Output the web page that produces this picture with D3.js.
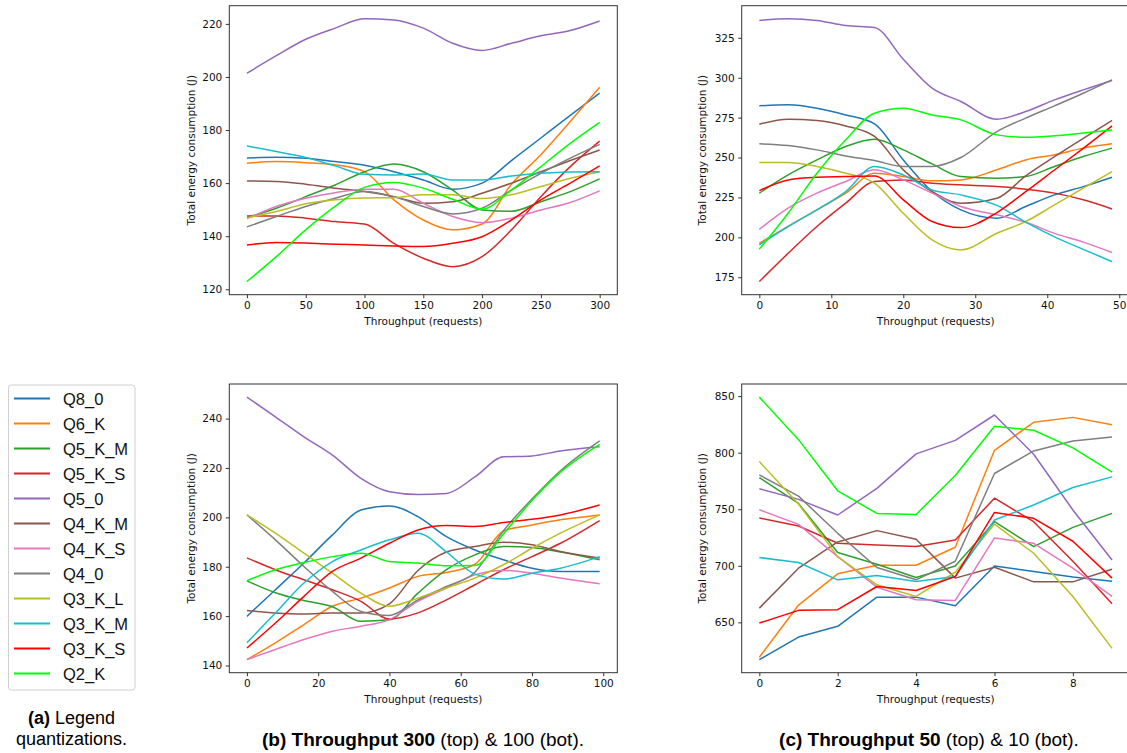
<!DOCTYPE html>
<html><head><meta charset="utf-8">
<script src="https://cdn.jsdelivr.net/npm/d3@7"></script>
<style>body{margin:0;background:#fff} svg{display:block}</style>
</head><body>
<svg id="c" width="1127" height="753"></svg>
<script>
const seriesNames = ["Q8_0","Q6_K","Q5_K_M","Q5_K_S","Q5_0","Q4_K_M","Q4_K_S","Q4_0","Q3_K_L","Q3_K_M","Q3_K_S","Q2_K"];
const seriesColors = ["#1f77b4","#ff7f0e","#2ca02c","#d62728","#9467bd","#8c564b","#e377c2","#7f7f7f","#bcbd22","#17becf","#ff0000","#00ff00"];

// Throughput 300 (top-left), rows follow seriesNames
const x300 = [0,25,50,75,100,125,150,175,200,225,250,275,300];
const y300 = [
  [169.5,169.7,169.4,168.1,166.7,164.3,161.2,157.7,160.0,168.5,177.0,185.5,193.9],
  [167.5,168.1,167.7,166.9,164.3,153.7,146.1,142.4,144.6,159.6,170.7,183.2,196.1],
  [147.0,150.5,154.9,159.3,164.3,167.2,164.3,157.4,149.9,149.4,153.0,156.8,161.6],
  [147.6,147.6,146.8,145.5,144.6,137.3,131.7,128.5,132.3,142.4,154.9,166.2,175.8],
  [201.4,208.0,214.2,218.4,221.9,221.5,218.4,212.7,210.0,212.7,215.5,217.5,221.1],
  [160.8,160.6,159.6,158.1,156.8,154.9,152.4,153.0,156.2,160.0,164.3,168.5,172.5],
  [146.6,151.2,154.3,156.4,157.7,157.7,152.4,147.4,145.1,146.8,149.9,152.7,157.1],
  [143.5,147.4,151.2,154.3,156.8,154.9,151.2,148.4,150.5,157.4,163.7,169.4,174.6],
  [146.9,149.3,152.2,153.7,154.4,154.5,155.6,155.6,154.2,155.6,158.7,161.8,164.3],
  [174.0,171.9,169.7,166.5,163.3,163.1,163.4,161.2,161.2,162.7,163.7,164.2,164.3],
  [136.7,137.6,137.4,137.0,136.7,136.3,136.1,137.3,139.8,146.1,153.7,160.0,166.5],
  [122.9,132.3,142.4,151.2,158.4,160.2,158.1,153.9,150.2,157.4,166.2,175.0,182.9]
];

// Throughput 50 (top-right)
const x50 = [0,4,8,12,16,20,24,28,33,37,41,45,49];
const y50 = [
  [282.4,283.0,280.9,276.7,271.1,248.5,228.7,217.2,212.0,219.3,226.6,231.8,237.7],
  [196.3,206.8,217.2,227.7,240.2,238.1,235.4,236.0,242.3,248.5,251.7,255.9,258.6],
  [227.7,239.1,248.5,256.9,261.5,254.8,246.0,238.1,237.0,238.1,244.4,250.6,255.9],
  [172.3,190.0,206.8,221.4,235.0,236.0,233.9,232.9,231.8,230.2,227.7,223.5,217.8],
  [335.9,336.9,335.9,332.7,331.5,311.6,293.5,285.1,274.0,278.8,286.1,292.4,298.3],
  [270.9,274.0,273.2,269.8,263.2,242.3,228.7,221.4,224.5,238.5,250.5,262.0,273.2],
  [205.0,218.3,227.7,235.0,242.3,236.0,227.7,219.3,214.1,209.5,202.5,197.0,190.5],
  [258.6,257.5,254.8,251.0,248.1,244.4,244.4,250.0,266.3,274.7,282.4,290.3,298.7],
  [246.9,246.9,244.4,240.2,233.9,215.1,198.4,192.1,202.6,209.9,220.3,230.8,241.2],
  [195.3,206.8,217.2,228.7,244.4,239.1,229.7,226.6,220.0,209.5,200.3,192.5,184.8],
  [229.3,236.0,237.7,238.1,238.5,223.5,209.9,206.1,215.5,228.6,242.2,255.8,269.8],
  [192.6,215.1,240.2,261.1,277.8,280.9,276.7,273.6,264.2,262.7,263.6,265.3,267.3]
];

// Throughput 100 (bottom-left)
const x100 = [0,8,16,24,32,40,48,56,64,72,80,88,99];
const y100 = [
  [159.9,170.7,181.5,192.9,203.0,204.6,200.3,192.2,186.8,182.8,179.4,178.1,178.1],
  [142.4,149.2,156.6,164.0,167.3,171.4,176.1,177.7,181.0,194.5,196.9,199.0,201.0],
  [174.3,169.5,166.3,163.8,157.9,158.5,169.3,178.8,184.8,188.2,187.8,186.0,182.8],
  [183.6,178.8,174.7,170.7,166.0,158.8,161.3,166.6,172.7,178.8,184.1,189.5,198.7],
  [248.7,240.7,232.6,225.2,215.8,210.4,209.3,209.7,216.4,224.5,224.9,226.9,228.6],
  [162.3,161.3,160.9,161.3,161.3,165.0,178.5,186.0,188.2,189.9,188.9,186.2,183.5],
  [142.4,146.5,150.5,153.9,155.9,158.6,166.0,171.4,176.7,178.5,177.4,175.4,173.1],
  [201.0,190.9,180.1,170.0,161.9,160.3,166.6,172.0,177.8,194.6,207.4,218.9,231.0],
  [201.0,193.6,185.5,177.4,169.3,164.0,167.3,171.4,175.4,180.8,187.5,193.6,201.0],
  [149.2,161.3,173.4,182.1,186.8,190.9,193.6,186.0,177.0,175.0,177.4,179.4,184.1],
  [147.1,157.2,168.0,178.1,183.5,189.5,194.9,196.7,196.3,197.9,199.2,201.0,205.0],
  [174.3,178.8,181.7,184.1,185.5,182.1,181.5,180.4,180.5,193.3,206.8,218.3,229.6]
];

// Throughput 10 (bottom-right)
const x10 = [0,1,2,3,4,5,6,7,8,9];
const y10 = [
  [617.1,637.0,646.5,672.3,672.3,664.7,699.9,695.0,690.0,686.4],
  [619.2,665.3,692.9,700.5,700.5,716.4,802.1,826.8,831.2,824.7],
  [778.0,755.1,711.7,701.4,689.6,699.9,739.0,716.9,734.0,746.3],
  [742.2,735.2,719.9,718.4,717.0,722.8,759.8,739.0,704.0,666.4],
  [768.1,758.7,744.9,768.4,798.9,810.9,833.3,798.6,749.3,705.2],
  [662.6,697.9,721.1,731.1,723.4,689.1,698.7,685.8,685.8,697.0],
  [749.6,736.6,708.1,681.1,670.0,669.4,724.6,719.9,697.9,672.9],
  [780.4,761.6,728.7,698.5,687.6,704.0,781.6,801.5,810.4,813.9],
  [792.1,754.6,708.1,683.2,672.9,694.3,736.9,711.1,672.9,627.0],
  [707.3,702.9,687.6,691.4,686.1,690.5,740.5,753.7,769.2,778.6],
  [649.4,660.6,661.2,681.7,678.2,690.5,747.2,742.0,721.7,689.1],
  [849.1,811.5,766.3,746.3,745.4,779.8,823.3,819.8,804.2,782.8]
];

const xTicks300 = [0,50,100,150,200,250,300];
const yTicks300 = [120,140,160,180,200,220];
const xTicks50 = [0,10,20,30,40,50];
const yTicks50 = [175,200,225,250,275,300,325];
const xTicks100 = [0,20,40,60,80,100];
const yTicks100 = [140,160,180,200,220,240];
const xTicks10 = [0,2,4,6,8];
const yTicks10 = [650,700,750,800,850];

const svg = d3.select("#c");
const tickFont = "DejaVu Sans, sans-serif";

function pad(ext){ const d = (ext[1]-ext[0])*0.05; return [ext[0]-d, ext[1]+d]; }

function panel(box, xs, ys, xt, yt, smooth, ylabX){
  const xExt = pad(d3.extent(xs));
  const yExt = pad([d3.min(ys, r=>d3.min(r)), d3.max(ys, r=>d3.max(r))]);
  const x = d3.scaleLinear().domain(xExt).range([box.l, box.r]);
  const y = d3.scaleLinear().domain(yExt).range([box.b, box.t]);
  const g = svg.append("g");
  const line = d3.line().x((d,i)=>x(xs[i])).y(d=>y(d))
    .curve(smooth ? d3.curveMonotoneX : d3.curveLinear);
  ys.forEach((row,i)=>{
    g.append("path").attr("d", line(row)).attr("fill","none")
      .attr("stroke", seriesColors[i]).attr("stroke-width",1.5)
      .attr("stroke-linejoin","round");
  });
  g.append("rect").attr("x",box.l).attr("y",box.t).attr("width",box.r-box.l).attr("height",box.b-box.t)
    .attr("fill","none").attr("stroke","#333").attr("stroke-width",1);
  const ax = g.append("g").attr("transform",`translate(0,${box.b})`)
    .call(d3.axisBottom(x).tickValues(xt).tickFormat(d3.format("d")).tickSize(3.5).tickPadding(3.5));
  const ay = g.append("g").attr("transform",`translate(${box.l},0)`)
    .call(d3.axisLeft(y).tickValues(yt).tickFormat(d3.format("d")).tickSize(3.5).tickPadding(3.5));
  [ax,ay].forEach(a=>{
    a.select(".domain").remove();
    a.selectAll("line").attr("stroke","#333");
    a.selectAll("text").attr("font-family",tickFont).attr("font-size","10.5px").attr("fill","#111");
  });
  g.append("text").attr("x",(box.l+box.r)/2).attr("y",box.b+30)
    .attr("text-anchor","middle").attr("font-family",tickFont).attr("font-size","10.5px").attr("fill","#111")
    .text("Throughput (requests)");
  g.append("text").attr("transform",`translate(${ylabX},${(box.t+box.b)/2}) rotate(-90)`)
    .attr("text-anchor","middle").attr("font-family",tickFont).attr("font-size","10.5px").attr("fill","#111")
    .text("Total energy consumption (J)");
}

panel({l:229.3,r:617.3,t:5.7,b:294.7}, x300, y300, xTicks300, yTicks300, true, 194.5);
panel({l:741.7,r:1129.7,t:5.7,b:294.7}, x50, y50, xTicks50, yTicks50, true, 706);
panel({l:229.3,r:617.3,t:384,b:672.7}, x100, y100, xTicks100, yTicks100, true, 194.5);
panel({l:741.7,r:1129.7,t:384,b:672.7}, x10, y10, xTicks10, yTicks10, false, 706);

// Legend
const lg = svg.append("g");
lg.append("rect").attr("x",8.5).attr("y",385).attr("width",126.5).attr("height",305).attr("rx",3)
  .attr("fill","#fff").attr("stroke","#d0d0d0").attr("stroke-width",1);
seriesNames.forEach((n,i)=>{
  const cy = 398.5 + i*25;
  lg.append("line").attr("x1",14).attr("x2",50).attr("y1",cy).attr("y2",cy)
    .attr("stroke",seriesColors[i]).attr("stroke-width",2);
  lg.append("text").attr("x",63).attr("y",cy+6).attr("font-family","Liberation Sans, Arial, sans-serif")
    .attr("font-size","16.5px").attr("fill","#111").text(n);
});

// Captions
function caption(cx, y, size, bold, rest){
  const t = svg.append("text").attr("x",cx).attr("y",y).attr("text-anchor","middle")
    .attr("font-family","Liberation Sans, Arial, sans-serif").attr("font-size",size+"px").attr("fill","#000");
  if (bold) t.append("tspan").attr("font-weight","bold").text(bold);
  t.append("tspan").text(rest);
}
caption(71.5, 724, 18, "(a)", " Legend");
caption(71.5, 745, 18, null, "quantizations.");
caption(423, 746, 19, "(b) Throughput 300", " (top) & 100 (bot).");
caption(929, 746, 19, "(c) Throughput 50", " (top) & 10 (bot).");
</script>
</body></html>
